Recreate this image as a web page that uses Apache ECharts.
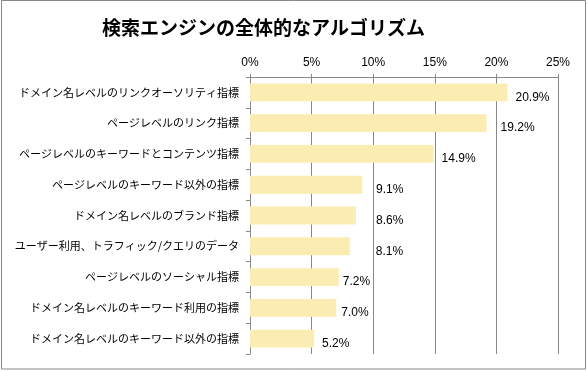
<!DOCTYPE html>
<html><head><meta charset="utf-8">
<script src="https://cdn.jsdelivr.net/npm/echarts@6/dist/echarts.min.js"></script>
<style>html,body{margin:0;padding:0;background:#fff}#c{width:587px;height:371px}</style>
</head><body><div id="c"></div>
<script>
const titleText = '検索エンジンの全体的なアルゴリズム';
const categories = [
  'ドメイン名レベルのリンクオーソリティ指標',
  'ページレベルのリンク指標',
  'ページレベルのキーワードとコンテンツ指標',
  'ページレベルのキーワード以外の指標',
  'ドメイン名レベルのブランド指標',
  'ユーザー利用、トラフィック/クエリのデータ',
  'ページレベルのソーシャル指標',
  'ドメイン名レベルのキーワード利用の指標',
  'ドメイン名レベルのキーワード以外の指標'
];
const values = [20.9, 19.2, 14.9, 9.1, 8.6, 8.1, 7.2, 7.0, 5.2];
const tickValues = [0, 5, 10, 15, 20, 25];
// label gap from bar end (style only)
const labelGap = [8, 14, 8, 14, 20, 26, 4, 5, 8];

const chart = echarts.init(document.getElementById('c'));
const font = '"Noto Sans CJK JP", sans-serif';
chart.setOption({
  animation: false,
  title: {
    text: titleText, left: 97, top: 13,
    textStyle: {fontFamily: font, fontSize: 19, fontWeight: 'bold', color: '#000'}
  },
  graphic: [{
    type: 'rect', shape: {x: 1.5, y: 0.5, width: 584, height: 368.5},
    style: {fill: 'none', stroke: '#888', lineWidth: 1}, silent: true
  }],
  grid: {left: 250, top: 77, width: 308, height: 277, containLabel: false},
  xAxis: {
    type: 'value', position: 'top',
    min: tickValues[0], max: tickValues[tickValues.length - 1], interval: 5,
    axisLine: {show: true, lineStyle: {color: '#888'}},
    axisTick: {show: true, length: 3, lineStyle: {color: '#888'}},
    splitLine: {show: true, lineStyle: {color: '#888'}},
    axisLabel: {formatter: v => v + '%', fontFamily: 'Liberation Sans', fontSize: 12, color: '#000', margin: 8}
  },
  yAxis: {
    type: 'category', data: categories, inverse: true,
    axisLine: {show: true, lineStyle: {color: '#888'}},
    axisTick: {show: true, length: 4, lineStyle: {color: '#888'}},
    axisLabel: {fontFamily: font, fontSize: 11, color: '#000', margin: 11}
  },
  series: [{
    type: 'bar',
    barCategoryGap: '42%',
    itemStyle: {color: '#FBEDB1'},
    data: values.map((v, i) => ({value: v, label: {distance: labelGap[i]}})),
    label: {
      show: true, position: 'right', offset: [0, 5],
      formatter: p => p.value.toFixed(1) + '%',
      fontFamily: 'Liberation Sans', fontSize: 12, color: '#000'
    }
  }]
});
</script></body></html>
